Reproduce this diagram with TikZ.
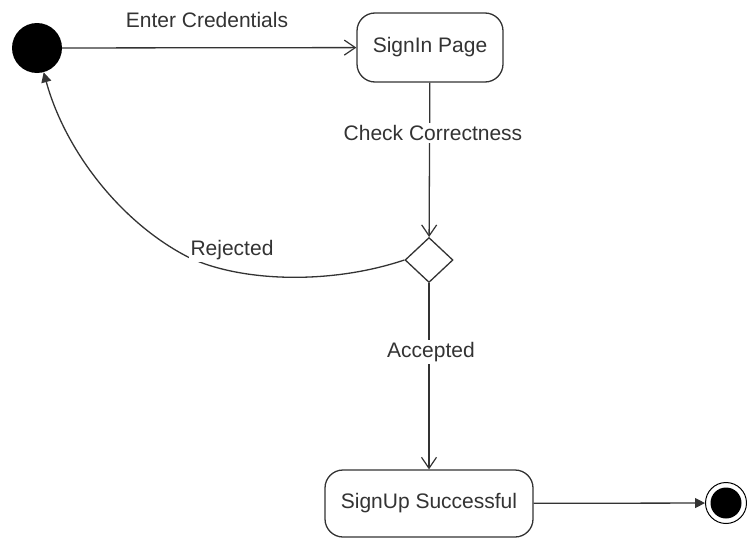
\documentclass[tikz,border=0pt]{standalone}
\usepackage{fontspec}
\setmainfont{Liberation Sans}
\usetikzlibrary{arrows.meta,shapes.geometric}
\definecolor{ink}{HTML}{333333}
\tikzset{
  flow/.style={line width=1.3pt, draw=ink},
  open/.style={flow, -{Straight Barb[length=11pt,width=15pt,line width=1.2pt]}},
  solid/.style={flow, -{Triangle[length=10pt,width=10pt]}},
  state/.style={draw=ink, line width=1.3pt, rounded corners=18pt, fill=white,
    text=ink, font=\fontsize{21}{25}\selectfont, inner sep=0pt},
  lbl/.style={fill=white, text=ink, font=\fontsize{21}{25}\selectfont, inner sep=2pt},
  choice/.style={draw=ink, line width=1.3pt, diamond, fill=white, inner sep=0pt,
    minimum width=48pt, minimum height=45pt}
}
\begin{document}
\begin{tikzpicture}[x=1pt,y=-1pt]
  \useasboundingbox (0,0) rectangle (747,538);
  % states
  \node[circle, fill=black, minimum size=50pt, inner sep=0pt] (start) at (37,48) {};
  \node[state, minimum width=146pt, minimum height=69pt] (signin) at (430,47.5) {SignIn Page};
  \node[choice] (dia) at (429,260) {};
  \node[state, minimum width=208pt, minimum height=67pt] (ok) at (429,503.5) {SignUp Successful};
  \node[circle, draw=black, line width=1pt, fill=white, minimum size=41pt, inner sep=0pt] (end) at (726,503) {};
  \node[circle, fill=black, minimum size=31pt, inner sep=0pt] at (end) {};
  % transitions
  \draw[open] (start) -- (signin);
  \draw[open] (signin) -- (dia);
  \draw[open] (dia) -- (ok);
  \draw[solid] (ok) -- (end);
  \draw[solid] (dia.west) .. controls (330,285) and (240,282) .. (188,257)
    .. controls (120,222) and (65,150) .. (start);
  % labels
  \node[lbl, fill=none] (l1) at (207,19.5) {Enter Credentials};
  \node[lbl] (l2) at (433,133) {Check Correctness};
  \node[lbl] (l3) at (431,352) {Accepted};
  \node[lbl] (l4) at (232,250) {Rejected};
\end{tikzpicture}
\end{document}
